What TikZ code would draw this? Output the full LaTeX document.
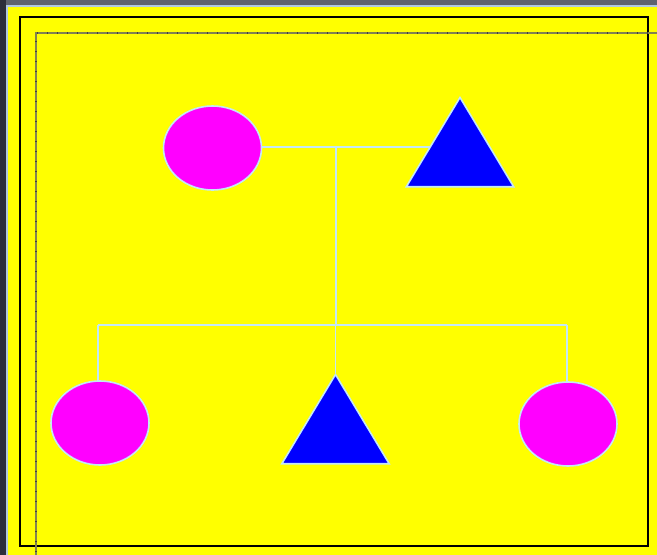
\documentclass[tikz,border=0pt]{standalone}
\usetikzlibrary{shapes.geometric,backgrounds}
\definecolor{bgyellow}{RGB}{255,255,0}
\definecolor{shapemag}{RGB}{255,0,255}
\definecolor{shapeblue}{RGB}{0,0,255}
\definecolor{linkblue}{RGB}{196,232,246}
\definecolor{edgedark}{RGB}{44,46,59}
\definecolor{edgegrey}{RGB}{95,99,110}
\definecolor{edgelight}{RGB}{176,200,224}
\definecolor{rulegrey}{RGB}{130,130,80}
\tikzset{
  oval/.style={ellipse, draw=linkblue, line width=1.6pt, fill=shapemag,
    minimum width=98pt, minimum height=84pt, inner sep=0pt},
  tri/.style={regular polygon, regular polygon sides=3, draw=linkblue,
    line width=1.6pt, fill=shapeblue, minimum size=124pt, inner sep=0pt, yscale=0.96},
  link/.style={draw=linkblue, line width=1.8pt},
  frame/.style={draw=black, line width=2pt},
  ruler/.style={draw=rulegrey, line width=2.2pt},
  rulerticks/.style={draw=black!75, line width=2.2pt, dash pattern=on 1pt off 9pt}
}
\begin{document}
\begin{tikzpicture}[x=1pt,y=-1pt]
\useasboundingbox (0,0) rectangle (657,555);
% shapes
\node[oval] (e1) at (212.5,148) {};
\node[tri]  (t1) at (460,157) {};
\node[oval] (e2) at (100,423) {};
\node[tri]  (t2) at (335.5,434) {};
\node[oval] (e3) at (568,424) {};
\coordinate (m)  at (336,147);
\coordinate (b)  at (336,325);
\coordinate (bl) at (98,325);
\coordinate (br) at (567,325);
\begin{scope}[on background layer]
  % screen edges and background
  \fill[edgedark] (0,0) rectangle (657,555);
  \fill[edgegrey] (6,0) rectangle (657,5);
  \fill[edgelight] (6,5) rectangle (657,555);
  \fill[bgyellow] (8,7) rectangle (657,555);
  % frames
  \draw[frame] (20,17) rectangle (648,546);
  \draw[ruler] (36,562) -- (36,33) -- (662,33);
  \draw[rulerticks] (36,562) -- (36,33) -- (662,33);
  % connectors
  \draw[link] (e1.east |- m) -- (t1 |- m);
  \draw[link] (m) -- (b);
  \draw[link] (bl) -- (br);
  \draw[link] (bl) -- (bl |- e2);
  \draw[link] (br) -- (br |- e3);
  \draw[link] (t2.north |- b) -- (t2);
\end{scope}
\end{tikzpicture}
\end{document}
